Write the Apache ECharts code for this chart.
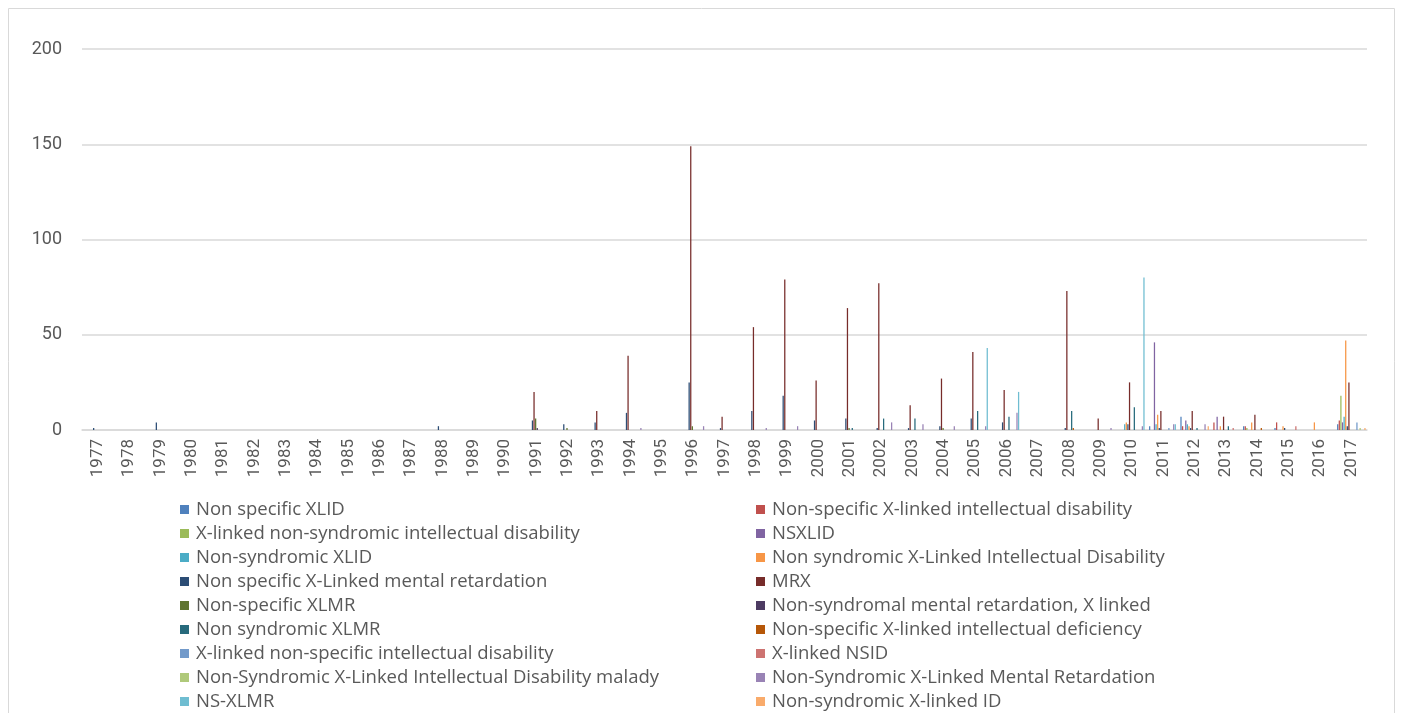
<!DOCTYPE html>
<html>
<head>
<meta charset="utf-8">
<script src="https://cdn.jsdelivr.net/npm/echarts@6/dist/echarts.min.js"></script>
<style>
html,body{margin:0;padding:0;background:#fff;}
#chart{width:1402px;height:713px;}
</style>
</head>
<body>
<div id="chart"></div>
<script>
// ---- Data ----
const years = ["1977","1978","1979","1980","1981","1982","1983","1984","1985","1986","1987","1988","1989","1990","1991","1992","1993","1994","1995","1996","1997","1998","1999","2000","2001","2002","2003","2004","2005","2006","2007","2008","2009","2010","2011","2012","2013","2014","2015","2016","2017"];
const yTicks = [0, 50, 100, 150, 200];

const seriesNames = [
  "Non specific XLID",
  "Non-specific X-linked intellectual disability",
  "X-linked non-syndromic intellectual disability",
  "NSXLID",
  "Non-syndromic XLID",
  "Non syndromic X-Linked Intellectual Disability",
  "Non specific X-Linked mental retardation",
  "MRX",
  "Non-specific XLMR",
  "Non-syndromal mental retardation, X linked",
  "Non syndromic XLMR",
  "Non-specific X-linked intellectual deficiency",
  "X-linked non-specific intellectual disability",
  "X-linked NSID",
  "Non-Syndromic X-Linked Intellectual Disability malady",
  "Non-Syndromic X-Linked Mental Retardation",
  "NS-XLMR",
  "Non-syndromic X-linked ID"
];

//                          1977                 1987                     1997                          2007                          2017
const sNonSpecificXLID   = [0,0,0,0,0,0,0,0,0,0, 0,0,0,0,0,0,0,0,0,0, 0,0,0,0,0,0,0,0,0,0, 0,0,0,0,2,7,0,2,1,0, 3];
const sNonSpecXLinkedID  = [0,0,0,0,0,0,0,0,0,0, 0,0,0,0,0,0,0,0,0,0, 0,0,0,0,0,0,0,0,0,0, 0,0,0,0,0,2,4,2,4,0, 5];
const sXLinkedNonSyndID  = [0,0,0,0,0,0,0,0,0,0, 0,0,0,0,0,0,0,0,0,0, 0,0,0,0,0,0,0,0,0,0, 0,0,0,0,0,0,0,1,0,0, 18];
const sNSXLID            = [0,0,0,0,0,0,0,0,0,0, 0,0,0,0,0,0,0,0,0,0, 0,0,0,0,0,0,0,0,0,0, 0,0,0,0,46,5,7,0,0,0, 4];
const sNonSyndXLID       = [0,0,0,0,0,0,0,0,0,0, 0,0,0,0,0,0,0,0,0,0, 0,0,0,0,0,0,0,0,0,0, 0,0,0,3,3,3,0,0,0,0, 7];
const sNonSyndXLinkedID  = [0,0,0,0,0,0,0,0,0,0, 0,0,0,0,0,0,0,0,0,0, 0,0,0,0,0,0,0,0,0,0, 0,0,0,4,8,2,2,4,2,4, 47];
const sNonSpecXLinkedMR  = [1,0,4,0,0,0,0,0,0,0, 0,2,0,0,5,3,4,9,0,25, 1,10,18,5,6,1,1,2,6,4, 0,1,0,3,1,1,0,0,1,0, 2];
const sMRX               = [0,0,0,0,0,0,0,0,0,0, 0,0,0,0,20,0,10,39,0,149, 7,54,79,26,64,77,13,27,41,21, 0,73,6,25,10,10,7,8,0,0, 25];
const sNonSpecXLMR       = [0,0,0,0,0,0,0,0,0,0, 0,0,0,0,6,1,0,0,0,2, 0,0,0,0,1,0,0,1,0,0, 0,0,0,0,0,0,0,0,0,0, 0];
const sNonSyndromalMRXL  = [0,0,0,0,0,0,0,0,0,0, 0,0,0,0,1,0,0,0,0,0, 0,0,0,0,0,0,0,0,0,0, 0,0,0,0,0,0,0,0,0,0, 0];
const sNonSyndXLMR       = [0,0,0,0,0,0,0,0,0,0, 0,0,0,0,0,0,0,0,0,0, 0,0,0,0,1,6,6,0,10,7, 0,10,0,12,0,1,2,0,0,0, 0];
const sNonSpecXLIDef     = [0,0,0,0,0,0,0,0,0,0, 0,0,0,0,0,0,0,0,0,0, 0,0,0,0,0,0,0,0,0,0, 0,1,0,0,0,0,0,1,0,0, 0];
const sXLinkedNonSpecID  = [0,0,0,0,0,0,0,0,0,0, 0,0,0,0,0,0,0,0,0,0, 0,0,0,0,0,0,0,0,0,0, 0,0,0,0,1,0,0,0,0,0, 4];
const sXLinkedNSID       = [0,0,0,0,0,0,0,0,0,0, 0,0,0,0,0,0,0,0,0,0, 0,0,0,0,0,0,0,0,0,0, 0,0,0,0,0,0,1,0,2,0, 0];
const sNSXLIDMalady      = [0,0,0,0,0,0,0,0,0,0, 0,0,0,0,0,0,0,0,0,0, 0,0,0,0,0,0,0,0,0,0, 0,0,0,0,0,0,0,0,0,0, 1];
const sNSXLMentalRet     = [0,0,0,0,0,0,0,0,0,0, 0,0,0,0,0,0,0,1,0,2, 0,1,2,0,0,4,3,2,2,9, 0,0,1,2,3,3,0,0,0,0, 0];
const sNSXLMR            = [0,0,0,0,0,0,0,0,0,0, 0,0,0,0,0,0,0,0,0,0, 0,0,0,0,0,0,0,0,43,20, 0,0,0,80,3,0,0,0,0,0, 0];
const sNonSyndXLinkedID2 = [0,0,0,0,0,0,0,0,0,0, 0,0,0,0,0,0,0,0,0,0, 0,0,0,0,0,0,0,0,0,0, 0,0,0,0,0,2,0,0,0,0, 1];

const seriesValues = [
  sNonSpecificXLID, sNonSpecXLinkedID, sXLinkedNonSyndID, sNSXLID, sNonSyndXLID, sNonSyndXLinkedID,
  sNonSpecXLinkedMR, sMRX, sNonSpecXLMR, sNonSyndromalMRXL, sNonSyndXLMR, sNonSpecXLIDef,
  sXLinkedNonSpecID, sXLinkedNSID, sNSXLIDMalady, sNSXLMentalRet, sNSXLMR, sNonSyndXLinkedID2
];

// ---- Styles ----
const colors = [
  "#4F81BD","#C0504D","#9BBB59","#8064A2","#4BACC6","#F79646",
  "#2C4D75","#772C2A","#5F7530","#4D3B62","#276A7C","#B65708",
  "#729ACA","#CD7371","#AFC97A","#9983B5","#6FBDD1","#F9AB6B"
];
const FONT = "Roboto, 'Liberation Sans', sans-serif";
const LFONT = "'Open Sans', Roboto, sans-serif";
const TXT = "#595959";

const chart = echarts.init(document.getElementById('chart'), null, {renderer: 'canvas'});

const series = seriesNames.map((name, i) => ({
  name: name,
  type: 'bar',
  data: seriesValues[i],
  barGap: '27%',
  barCategoryGap: '9%',
  itemStyle: {color: colors[i]},
  emphasis: {disabled: true}
}));

const legendStyle = {
  orient: 'vertical',
  top: 500,
  height: 260,
  padding: 0,
  itemWidth: 9,
  itemHeight: 9,
  itemGap: 5,
  icon: 'rect',
  textStyle: {color: TXT, fontSize: 18.5, fontFamily: LFONT, lineHeight: 18, padding: [0,0,0,2]},
  selectedMode: false
};

chart.setOption({
  animation: false,
  color: colors,
  graphic: [{
    type: 'rect',
    shape: {x: 8.5, y: 8.5, width: 1386, height: 720},
    style: {fill: 'none', stroke: '#D9D9D9', lineWidth: 1},
    silent: true
  }],
  grid: {left: 82, right: 35, top: 49, bottom: 283, containLabel: false},
  xAxis: {
    type: 'category',
    data: years,
    axisTick: {show: false},
    axisLine: {lineStyle: {color: '#D9D9D9', width: 1.5}},
    axisLabel: {interval: 0, rotate: 90, color: TXT, fontSize: 17, fontFamily: FONT, margin: 9}
  },
  yAxis: {
    type: 'value',
    min: yTicks[0],
    max: yTicks[yTicks.length - 1],
    interval: yTicks[1] - yTicks[0],
    axisLine: {show: false},
    axisTick: {show: false},
    splitLine: {lineStyle: {color: '#D9D9D9', width: 1.5}},
    axisLabel: {color: TXT, fontSize: 18, fontFamily: FONT, margin: 20}
  },
  legend: [
    Object.assign({}, legendStyle, {left: 180, data: seriesNames.filter((n, i) => i % 2 === 0)}),
    Object.assign({}, legendStyle, {left: 756, data: seriesNames.filter((n, i) => i % 2 === 1)})
  ],
  series: series
});
</script>
</body>
</html>
